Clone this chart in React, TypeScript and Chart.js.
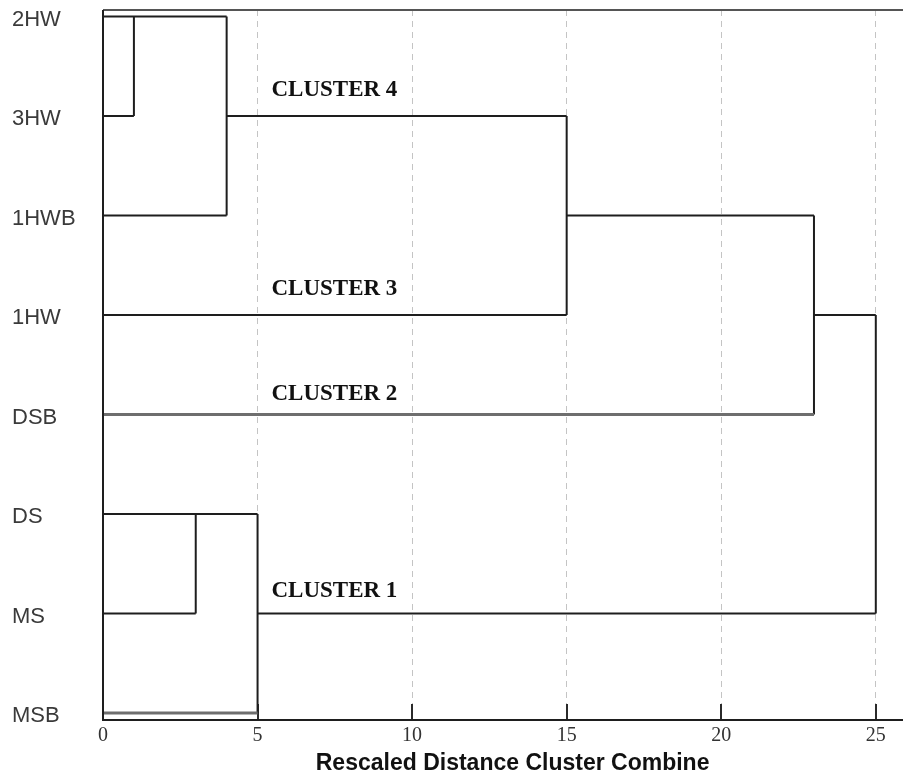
import React, { useEffect, useRef } from 'react';
import { Chart, registerables } from 'chart.js';

Chart.register(...registerables);

// Leaves of the dendrogram, top to bottom
const leafLabels = ['2HW', '3HW', '1HWB', '1HW', 'DSB', 'DS', 'MS', 'MSB'];

// Rescaled distance tick labels
const distanceTicks = [0, 5, 10, 15, 20, 25];

// Horizontal links: [row, fromDistance, toDistance]
const horizontalLinks: number[][] = [
  [0, 0, 4],
  [1, 0, 1],
  [2, 0, 4],
  [3, 0, 15],
  [4, 0, 23],
  [5, 0, 5],
  [6, 0, 3],
  [7, 0, 5],
  [1, 4, 15],
  [2, 15, 23],
  [3, 23, 25],
  [6, 5, 25],
];

// Vertical links: [distance, fromRow, toRow]
const verticalLinks: number[][] = [
  [1, 0, 1],
  [4, 0, 2],
  [15, 1, 3],
  [23, 2, 4],
  [25, 3, 6],
  [3, 5, 6],
  [5, 5, 7],
];

// Rows whose leaf line is drawn lighter (double line in source)
const lightRows = [4, 7];

// Cluster annotations
const clusterNames = ['CLUSTER 4', 'CLUSTER 3', 'CLUSTER 2', 'CLUSTER 1'];
const clusterX = [5.45, 5.45, 5.45, 5.45];
const clusterY = [0.74, 2.74, 3.79, 5.77];

const axisTitle = 'Rescaled Distance Cluster Combine';

const X_MAX = 25.88;
const Y_MIN = -0.065;
const Y_MAX = 7.07;

export default function App() {
  const canvasRef = useRef<HTMLCanvasElement | null>(null);

  useEffect(() => {
    document.body.style.margin = '0';
    const canvas = canvasRef.current;
    if (!canvas) return;

    const datasets: any[] = [];
    horizontalLinks.forEach((h, i) => {
      const light = i < 8 && lightRows.includes(h[0]);
      datasets.push({
        data: [
          { x: h[1], y: h[0] },
          { x: h[2], y: h[0] },
        ],
        borderColor: light ? '#6e6e6e' : '#1e1e1e',
        borderWidth: light ? 3 : 2,
        pointRadius: 0,
        showLine: true,
      });
    });
    verticalLinks.forEach((v) => {
      datasets.push({
        data: [
          { x: v[0], y: v[1] },
          { x: v[0], y: v[2] },
        ],
        borderColor: '#1e1e1e',
        borderWidth: 2,
        pointRadius: 0,
        showLine: true,
      });
    });

    const framePlugin = {
      id: 'frame',
      beforeDatasetsDraw(chart: any) {
        const { ctx, chartArea } = chart;
        const xs = chart.scales.x;
        ctx.save();
        ctx.strokeStyle = '#2a2a2a';
        ctx.lineWidth = 2;
        distanceTicks.forEach((t) => {
          if (t === 0) return;
          const px = Math.round(xs.getPixelForValue(t));
          ctx.beginPath();
          ctx.moveTo(px, chartArea.bottom);
          ctx.lineTo(px, chartArea.bottom - 16);
          ctx.stroke();
        });
        ctx.restore();
      },
      afterDatasetsDraw(chart: any) {
        const { ctx, chartArea } = chart;
        const xs = chart.scales.x;
        const ys = chart.scales.y;
        ctx.save();
        ctx.strokeStyle = '#555';
        ctx.lineWidth = 2;
        ctx.beginPath();
        ctx.moveTo(chartArea.left, chartArea.top);
        ctx.lineTo(chartArea.right, chartArea.top);
        ctx.stroke();
        ctx.strokeStyle = '#1e1e1e';
        ctx.beginPath();
        ctx.moveTo(chartArea.left, chartArea.top);
        ctx.lineTo(chartArea.left, chartArea.bottom);
        ctx.lineTo(chartArea.right, chartArea.bottom);
        ctx.stroke();
        // cluster labels
        ctx.fillStyle = '#111';
        ctx.font = 'bold 23px "Liberation Serif", "Times New Roman", serif';
        ctx.textBaseline = 'middle';
        ctx.textAlign = 'left';
        clusterNames.forEach((name, i) => {
          ctx.fillText(name, xs.getPixelForValue(clusterX[i]), ys.getPixelForValue(clusterY[i]));
        });
        // axis title
        ctx.font = 'bold 23px "Liberation Sans", Arial, sans-serif';
        ctx.textAlign = 'center';
        ctx.fillStyle = '#111';
        ctx.fillText(axisTitle, xs.getPixelForValue(13.25), chartArea.bottom + 44);
        ctx.restore();
      },
    };

    const chart = new Chart(canvas, {
      type: 'scatter',
      data: { datasets },
      plugins: [framePlugin],
      options: {
        animation: false,
        responsive: false,
        maintainAspectRatio: false,
        layout: { padding: { left: 12, top: 10, right: 0, bottom: 0 } },
        plugins: {
          legend: { display: false },
          tooltip: { enabled: false },
          title: { display: false },
        },
        scales: {
          x: {
            type: 'linear',
            min: 0,
            max: X_MAX,
            afterBuildTicks: (scale: any) => {
              scale.ticks = distanceTicks.map((v) => ({ value: v }));
            },
            afterFit: (scale: any) => {
              scale.height = 58;
              scale.paddingLeft = 0;
              scale.paddingRight = 0;
            },
            grid: {
              color: (c: any) => (c.tick && c.tick.value === 0 ? 'rgba(0,0,0,0)' : '#c4c4c4'),
              lineWidth: 1,
              drawTicks: false,
            },
            border: { display: false, dash: [6, 5] },
            ticks: {
              padding: 4,
              color: '#333',
              font: { family: '"Liberation Serif", "Times New Roman", serif', size: 20 },
              callback: (v: any) => String(v),
            },
            title: { display: false },
          },
          y: {
            type: 'linear',
            reverse: true,
            min: Y_MIN,
            max: Y_MAX,
            afterBuildTicks: (scale: any) => {
              scale.ticks = leafLabels.map((_, i) => ({ value: i }));
            },
            afterFit: (scale: any) => {
              scale.width = 91;
              scale.paddingTop = 0;
              scale.paddingBottom = 0;
            },
            grid: { display: false, drawTicks: false },
            border: { display: false },
            ticks: {
              crossAlign: 'far',
              padding: 0,
              labelOffset: 3,
              color: '#3a3a3a',
              font: { family: '"Liberation Sans", Arial, sans-serif', size: 22 },
              callback: (v: any) => leafLabels[Math.round(Number(v))] ?? '',
            },
          },
        },
      } as any,
    });

    return () => chart.destroy();
  }, []);

  return <canvas ref={canvasRef} width={903} height={778} style={{ display: 'block' }} />;
}
